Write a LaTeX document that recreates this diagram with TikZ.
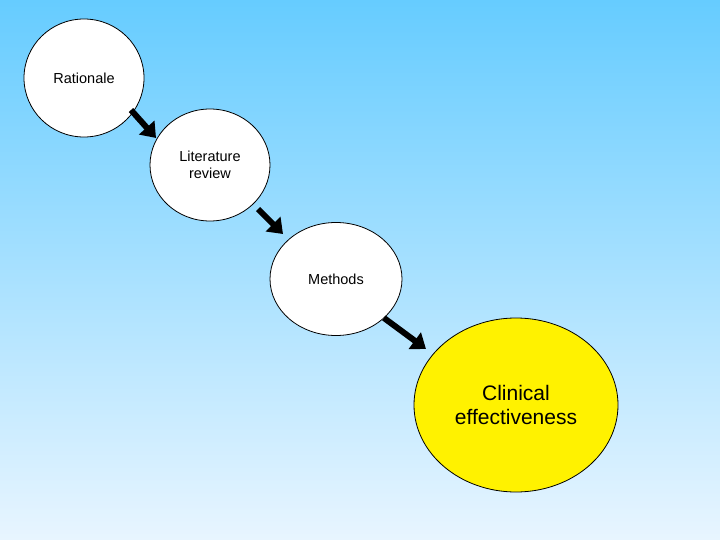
\documentclass[tikz,border=0pt]{standalone}
\usepackage{fontspec}
\setmainfont{Liberation Sans}
\usetikzlibrary{arrows.meta,shapes.geometric}
\definecolor{bgtop}{RGB}{102,204,255}
\definecolor{bgbot}{RGB}{232,245,255}
\tikzset{
  stage/.style={ellipse, draw=black, line width=0.8pt, fill=white, align=center, font=\fontsize{14.5}{17}\selectfont, inner sep=0pt},
  big/.style={stage, fill=yellow, font=\fontsize{21}{24}\selectfont},
  flow/.style={line width=6pt, -{Triangle[length=14pt,width=20pt]}, black}
}
\begin{document}
\begin{tikzpicture}[x=1pt,y=-1pt]
\shade[top color=bgtop, bottom color=bgbot] (0,0) rectangle (720,540);
\useasboundingbox (0,0) rectangle (720,540);
\node[stage, minimum width=120pt, minimum height=118pt] (r) at (84,78) {Rationale};
\node[stage, minimum width=120pt, minimum height=112pt] (l) at (210,165) {Literature\\review};
\node[stage, minimum width=132pt, minimum height=113pt] (m) at (336,279) {Methods};
\node[big, minimum width=204pt, minimum height=174pt] (c) at (516,405) {Clinical\\effectiveness};
\coordinate (a1s) at (131,110);
\coordinate (a1e) at (156,138);
\coordinate (a2s) at (258,209);
\coordinate (a2e) at (283,234);
\coordinate (a3s) at (384,318);
\coordinate (a3e) at (426,349);
\draw[flow] (a1s) -- (a1e);
\draw[flow] (a2s) -- (a2e);
\draw[flow] (a3s) -- (a3e);
\end{tikzpicture}
\end{document}
